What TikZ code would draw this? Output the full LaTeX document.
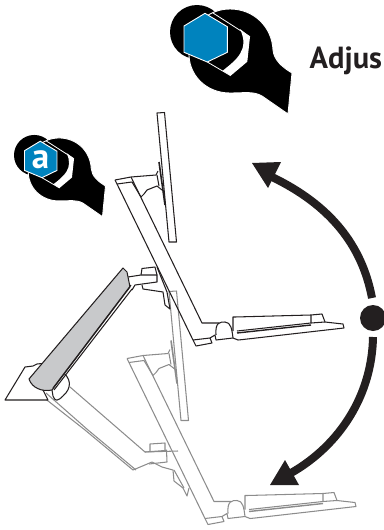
\documentclass[tikz,border=0pt]{standalone}
\usepackage{fontspec}
\setmainfont{PT Sans}
\definecolor{ink}{HTML}{231F20}
\definecolor{hexblue}{HTML}{0083BE}
\definecolor{armfill}{HTML}{C8C9CB}
\definecolor{ghost}{HTML}{8C8C8C}
\tikzset{
 inkline/.style={draw=ink,line width=1.05pt,line join=round},
 ghostline/.style={draw=ghost,line width=1.05pt,line join=round},
 bigarc/.style={draw=ink,line width=8pt},
 headfill/.style={fill=ink},
}
% the tilting stage: monitor, post, foot, tray
\newcommand{\stage}[1]{%
 \begin{scope}[#1,fill=white]
  % monitor
  \draw (157,113) -- (164.5,112.5) -- (176.5,242) -- (169,242) -- cycle;
  % post
  \draw (115,180) -- (131,177) -- (156,175) -- (158,171);
  \draw (115,180) -- (117,184) -- (132,182);
  \draw (117,184) -- (193,340);
  \draw (131,177) -- (202,323) -- (219,323);
  % wrist
  \draw (132,182) -- (141,197) -- (144,194) -- (147,190) -- (157,186) -- (162,190);
  \draw[line width=1.6pt] (159,162) -- (165,205);
  \draw (157,175) -- (159,186);
  % foot
  \draw (193,340) -- (210,338) -- (212,343) -- (196,346) -- cycle;
  \draw (210,338) -- (215,335) -- (216,340) -- (233,338) -- (238,340) -- (243,339.5) -- (344,328) -- (343,324) -- (325,322) -- (322,314) -- (311,315) -- (235,317) -- (233,317) -- (233,331);
  \draw (216,335) .. controls (215,322) and (220,322) .. (225,322) .. controls (231,322) and (232,330) .. (233,338);
  \draw (237,331) -- (311,323) -- (311,315);
  \draw (311,323) -- (325,322);
  \draw[line width=1.4pt] (237,333) -- (311,325);
 \end{scope}}
\begin{document}
\begin{tikzpicture}[x=1pt,y=-1pt]
\useasboundingbox (0,0) rectangle (383,530);
\node[anchor=base west,inner sep=0pt,text=ink,font=\fontsize{30.5}{30.5}\selectfont\bfseries] (adjust) at (309.5,68) {Adjus};
% badges
\foreach \scl/\ox/\oy/\lab in {1/170/2/{},0.75/14/132.7/a}{
 \begin{scope}[shift={(\ox,\oy)},scale=\scl,shift={(-170,-2)}]
  \fill[black] (197,32) circle (27);
  \draw[white,fill=black,line width=.9pt] (230,9) .. controls (254,9) and (272,27) .. (273,50) .. controls (274,60) and (282,67) .. (292,73) -- (288,114) -- (262,96) .. controls (253,91) and (245,93) .. (230,93) .. controls (206,93) and (188,75) .. (189,52) .. controls (189,28) and (206,9) .. (230,9) -- cycle;
  \fill[white] (240,29) -- (250,36.7) -- (247.3,61.7) -- (230.7,75.7) -- (222.7,70.7) .. controls (236,60) and (250,50) .. (240,29) -- cycle;
  \draw[white,line width=.8pt] (213,13) -- (250,36.7) (207.3,62) -- (230.7,75.7);
  \draw[white,fill=hexblue,line width=.9pt] (205,13.3) -- (227.3,26.7) -- (227.3,52.3) -- (207.3,62) -- (184,52.3) -- (184,26) -- cycle;
  \node[text=white,inner sep=0pt,font=\fontsize{35}{35}\selectfont\bfseries] (badgeletter) at (205.5,38) {\lab};
 \end{scope}}
% stages
\stage{shift={(12,178.5)},ghostline,every path/.style={ghostline}}
\stage{every path/.style={inkline}}
% lower arm, ghost
\begin{scope}[every path/.style={ghostline}]
 \draw (70,387) -- (145,452) -- (178,451);
 \draw (43,397) -- (85,430) -- (133,470) -- (152,462);
 \draw (46,393) -- (88,430) -- (136,470);
 \draw (145,452) -- (165,450.5) -- (166.5,450) -- (167,462) -- (149,464);
 \draw (150,452) -- (150,444) -- (165,443) -- (165,450);
 \draw (152,462) -- (162,467) -- (173,470) -- (174,481) -- (183,488) -- (187,496) -- (189,488);
 \draw (174,470) -- (184,488);
\end{scope}
% upper arm, dark
\begin{scope}[every path/.style={inkline}]
 \draw[fill=white] (5,400) -- (25,367) -- (33,366) -- (37,364) -- (42,363.5) -- (42,388) -- (48,400) -- cycle;
 \draw[fill=white] (60,370) .. controls (72,378) and (72,388) .. (63,396) .. controls (58,401) and (55,402) .. (53,396) -- (52,390) -- cycle;
 \draw (128,277) -- (141,275) -- (157,275) -- (157,282) -- (135,285) -- (132,290);
 \draw (141,275) -- (142,268.5) -- (155,267) -- (157,275);
 \draw (142,285) -- (143,289) -- (163,292) -- (165,305) -- (170,309);
 \draw (157,267) -- (167,292) -- (170,309);
 \draw[fill=armfill] (123,268) -- (127,272) -- (130,287) -- (52,390) .. controls (42,392) and (32,388) .. (29,379) -- cycle;
 \draw (132,289) -- (54,390);
 \draw (131,285) -- (53,388);
\end{scope}
% travel arrow
\draw[bigarc] (372,298) .. controls (362,245) and (330,205) .. (272,177);
\fill[headfill] (252,163) -- (281,162) -- (268,188) -- cycle;
\fill[ink] (373,318) circle (13);
\draw[bigarc] (373,337) .. controls (372,395) and (340,445) .. (291,473);
\fill[headfill] (270,485) -- (299,485) -- (285,460) -- cycle;
\end{tikzpicture}
\end{document}
